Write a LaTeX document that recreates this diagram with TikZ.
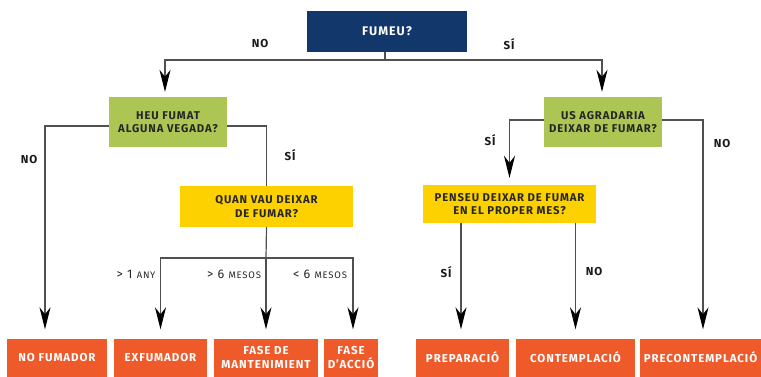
\documentclass[tikz,border=0pt]{standalone}
\usepackage{fontspec}
\setmainfont{Fira Sans}[LetterSpace=8]
\usetikzlibrary{arrows.meta}

\definecolor{blau}{HTML}{12386B}
\definecolor{verd}{HTML}{ADC653}
\definecolor{groc}{HTML}{FDD100}
\definecolor{taronja}{HTML}{EE5A2A}
\definecolor{linia}{HTML}{505050}

\begin{document}
\begin{tikzpicture}[x=1pt,y=-1pt,
    caixa/.style={inner sep=0pt,align=center,font=\fontsize{11.3}{13.5}\selectfont\bfseries},
    pregunta/.style={caixa,fill=blau,text=white,font=\fontsize{12.5}{14}\selectfont\bfseries},
    verda/.style={caixa,fill=verd,text=black!85},
    groga/.style={caixa,fill=groc,text=black!85},
    final/.style={caixa,fill=taronja,text=white,minimum height=38pt,font=\fontsize{11.5}{13.5}\selectfont\bfseries},
    etiq/.style={font=\fontsize{11.5}{13}\selectfont\bfseries,text=black!90},
    rang/.style={font=\fontsize{12.5}{14}\selectfont,text=black!85},
    fletxa/.style={draw=linia,line width=1.2pt,-{Stealth[length=22pt,width=11pt,inset=7pt,color=black]}},
    linea/.style={draw=linia,line width=1.2pt}]
  \useasboundingbox (0,0) rectangle (761,377);

  % preguntes
  \node[pregunta,minimum width=160pt,minimum height=41pt] (fumeu) at (387,31.5) {FUMEU?};
  \node[verda,minimum width=118pt,minimum height=50pt] (heu) at (168,122) {HEU FUMAT\\ALGUNA VEGADA?};
  \node[verda,minimum width=118pt,minimum height=50pt] (agrad) at (603,122) {US AGRADARIA\\DEIXAR DE FUMAR?};
  \node[groga,minimum width=173pt,minimum height=41pt] (quan) at (266.5,206.5) {QUAN VAU DEIXAR\\DE FUMAR?};
  \node[groga,minimum width=173pt,minimum height=38pt] (penseu) at (509.5,204) {PENSEU DEIXAR DE FUMAR\\EN EL PROPER MES?};

  % resultats
  \node[final,minimum width=100pt] (nofum) at (57,357.5) {NO FUMADOR};
  \node[final,minimum width=93pt] (exfum) at (160.5,357.5) {EXFUMADOR};
  \node[final,minimum width=104pt] (mant) at (266,357.5) {FASE DE\\MANTENIMIENT};
  \node[final,minimum width=54pt] (accio) at (351,357.5) {FASE\\D’ACCIÓ};
  \node[final,minimum width=93pt] (prep) at (462.5,357.5) {PREPARACIÓ};
  \node[final,minimum width=119pt] (contem) at (575.5,357.5) {CONTEMPLACIÓ};
  \node[final,minimum width=121pt] (precon) at (700.5,357.5) {PRECONTEMPLACIÓ};

  % connexions
  \coordinate (bif) at (385,60);
  \coordinate (qbif) at (266,258);
  \draw[linea] ([xshift=-2pt]fumeu.south) -- (bif);
  \draw[fletxa] (bif) -| ([xshift=-3pt,yshift=5pt]heu.north);
  \draw[fletxa] (bif) -| ([xshift=-1pt,yshift=5pt]agrad.north);
  \draw[fletxa] ([yshift=-4pt]heu.west) -| ([xshift=-12pt,yshift=9pt]nofum.north);
  \draw[linea] ([yshift=-4pt]heu.east) -| (quan.north);
  \draw[linea] (quan.south) -- (qbif);
  \draw[fletxa] (qbif) -- ([yshift=9pt]mant.north);
  \draw[fletxa] (qbif) -| ([yshift=9pt]exfum.north);
  \draw[fletxa] (qbif) -| ([xshift=2pt,yshift=9pt]accio.north);
  \draw[fletxa] ([yshift=2pt]agrad.west) -| ([yshift=7pt]penseu.north);
  \draw[fletxa] ([yshift=2pt]agrad.east) -| ([xshift=2.5pt,yshift=9pt]precon.north);
  \draw[fletxa] ([xshift=-1.5pt]prep.north |- penseu.south) -- ([xshift=-1.5pt,yshift=9pt]prep.north);
  \draw[fletxa] (contem.north |- penseu.south) -- ([yshift=9pt]contem.north);

  % etiquetes
  \node[etiq] (e1) at (260,44) {NO};
  \node[etiq] (e2) at (509,44) {SÍ};
  \node[etiq] (e3) at (29,160) {NO};
  \node[etiq] (e4) at (290,155) {SÍ};
  \node[etiq] (e5) at (490,140) {SÍ};
  \node[etiq] (e6) at (722,144) {NO};
  \node[etiq] (e7) at (446,272) {SÍ};
  \node[etiq] (e8) at (594,272) {NO};
  \node[rang] (r1) at (136,274) {> 1 {\fontsize{9.5}{11}\selectfont ANY}};
  \node[rang] (r2) at (234,274) {> 6 {\fontsize{9.5}{11}\selectfont MESOS}};
  \node[rang] (r3) at (320,274) {< 6 {\fontsize{9.5}{11}\selectfont MESOS}};
\end{tikzpicture}
\end{document}
